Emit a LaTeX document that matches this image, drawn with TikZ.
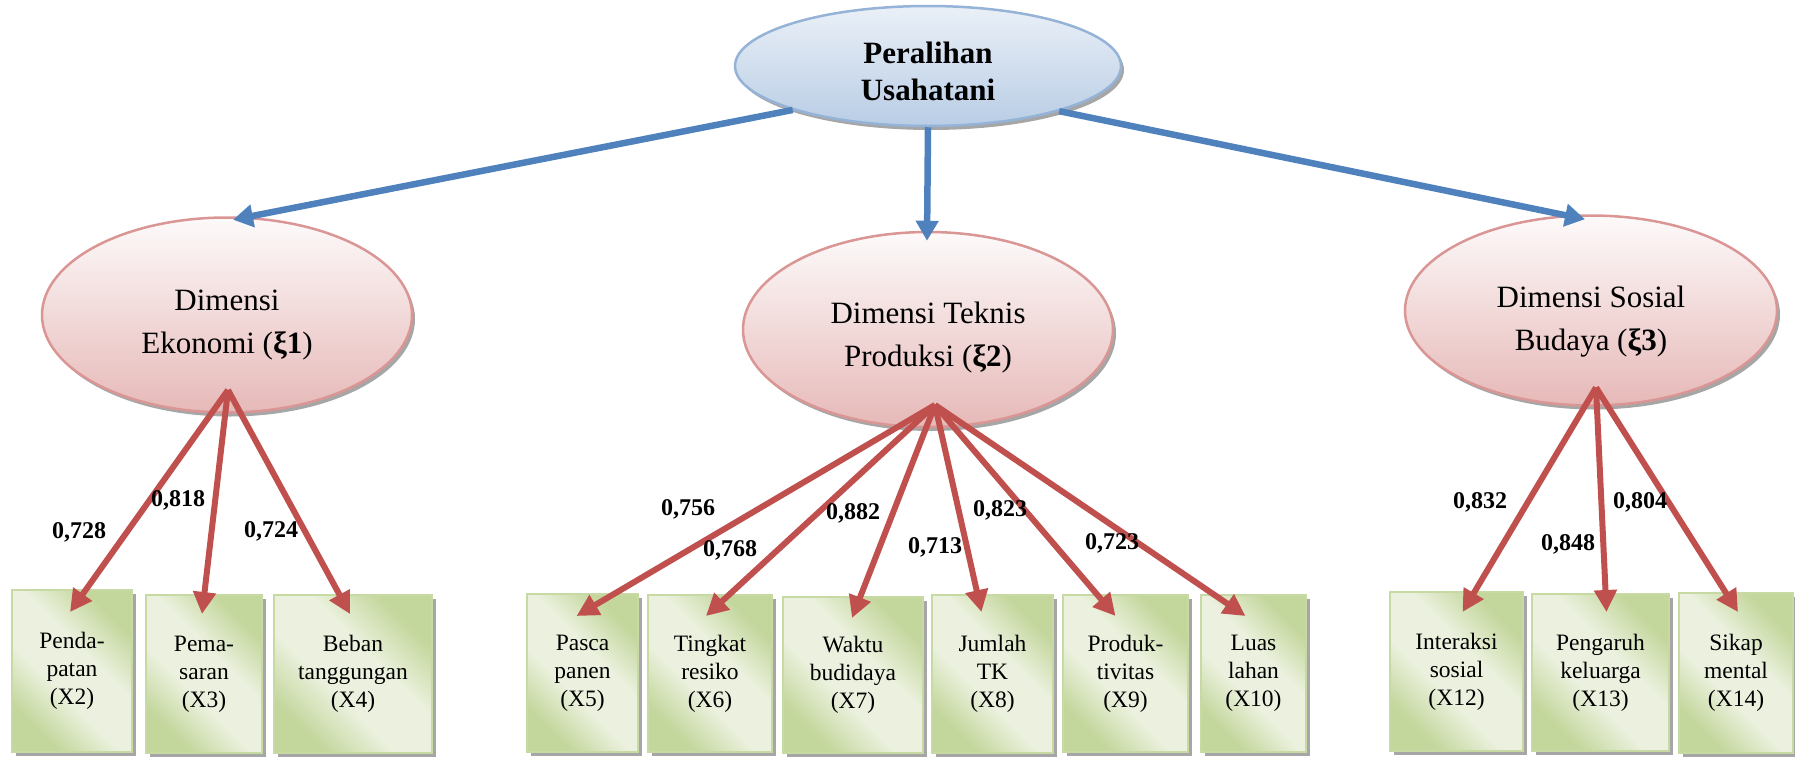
\documentclass[tikz,border=0pt]{standalone}
\usepackage{fontspec}
\setmainfont{Liberation Serif}
\usetikzlibrary{arrows.meta,shapes.geometric,shadows,calc}
\definecolor{bluL}{HTML}{4F81BD}
\definecolor{redL}{HTML}{C0504D}
\definecolor{pinkT}{HTML}{FDFAFA}
\definecolor{pinkB}{HTML}{E6B9B8}
\definecolor{pinkD}{HTML}{D99694}
\definecolor{blueT}{HTML}{DCE6F2}
\definecolor{blueB}{HTML}{B9CDE5}
\definecolor{blueD}{HTML}{95B3D7}
\definecolor{grnL}{HTML}{EBF1DE}
\definecolor{grnD}{HTML}{C3D69B}
\definecolor{grnE}{HTML}{C8DAA4}
\definecolor{shd}{HTML}{A6A6A6}
\pgfdeclarehorizontalshading{boxsh}{100bp}{color(0bp)=(grnD); color(26bp)=(grnD); color(42bp)=(grnL); color(58bp)=(grnL); color(74bp)=(grnD); color(100bp)=(grnD)}
\begin{document}
\begin{tikzpicture}[x=1pt,y=-1pt,
  ellip/.style={ellipse, draw=pinkD, line width=2.5pt, top color=pinkT, bottom color=pinkB,
    drop shadow={shadow xshift=3pt,shadow yshift=-4pt,fill=shd,opacity=1}, inner sep=0pt},
  rootell/.style={ellipse, draw=blueD, line width=2.5pt, top color=blueT!60!white, bottom color=blueB,
    drop shadow={shadow xshift=3pt,shadow yshift=-4pt,fill=shd,opacity=1}, inner sep=0pt},
  etext/.style={align=center, font=\fontsize{31}{43}\selectfont, inner sep=0pt},
  ttext/.style={align=center, font=\bfseries\fontsize{31}{37}\selectfont, inner sep=0pt},
  boxn/.style={rectangle, draw=grnE, line width=2pt, shading=boxsh, shading angle=45,
    drop shadow={shadow xshift=4pt,shadow yshift=-4pt,fill=shd,opacity=1},
    align=center, font=\fontsize{23.5}{28}\selectfont, inner sep=0pt},
  lbl/.style={font=\bfseries\fontsize{24}{28}\selectfont, inner sep=0pt, anchor=base},
  barr/.style={draw=bluL, line width=6.5pt, -{Triangle[length=20pt,width=22pt]}},
  rarr/.style={draw=redL, line width=6pt, -{Triangle[length=22pt,width=22pt]}}
]
\useasboundingbox (0,0) rectangle (1795,758);

% latent ellipses
\node[rootell, minimum width=386pt, minimum height=120pt] (root) at (928,66) {};
\node[ttext] (rootT) at (928,71) {Peralihan\\Usahatani};
\node[ellip, minimum width=370pt, minimum height=195pt] (eko) at (227,315) {};
\node[etext] (ekoT) at (227,325) {Dimensi\\Ekonomi (\textbf{ξ1})};
\node[ellip, minimum width=370pt, minimum height=195pt] (tek) at (928,329.5) {};
\node[etext] (tekT) at (928,338) {Dimensi Teknis\\Produksi (\textbf{ξ2})};
\node[ellip, minimum width=372pt, minimum height=190pt] (sos) at (1591,310.5) {};
\node[etext] (sosT) at (1591,322) {Dimensi Sosial\\Budaya (\textbf{ξ3})};

% indicator boxes
\node[boxn, minimum width=120pt, minimum height=162pt] (x2) at (72,671) {Penda-\\patan\\(X2)};
\node[boxn, minimum width=116pt, minimum height=158pt] (x3) at (204,674) {Pema-\\saran\\(X3)};
\node[boxn, minimum width=158pt, minimum height=158pt] (x4) at (353,674) {Beban\\tanggungan\\(X4)};
\node[boxn, minimum width=111pt, minimum height=158pt] (x5) at (582.5,673) {Pasca\\panen\\(X5)};
\node[boxn, minimum width=124pt, minimum height=157pt] (x6) at (710,673.5) {Tingkat\\resiko\\(X6)};
\node[boxn, minimum width=140pt, minimum height=156pt] (x7) at (853,675) {Waktu\\budidaya\\(X7)};
\node[boxn, minimum width=121pt, minimum height=158pt] (x8) at (992.5,674) {Jumlah\\TK\\(X8)};
\node[boxn, minimum width=125pt, minimum height=157pt] (x9) at (1125.5,673.5) {Produk-\\tivitas\\(X9)};
\node[boxn, minimum width=105pt, minimum height=157pt] (x10) at (1253.5,673.5) {Luas\\lahan\\(X10)};
\node[boxn, minimum width=133pt, minimum height=159pt] (x12) at (1456.5,671.5) {Interaksi\\sosial\\(X12)};
\node[boxn, minimum width=137pt, minimum height=157pt] (x13) at (1600.5,672.5) {Pengaruh\\keluarga\\(X13)};
\node[boxn, minimum width=114pt, minimum height=160pt] (x14) at (1736,673) {Sikap\\mental\\(X14)};

% blue arrows
\draw[barr] (root.198) -- ($(eko.north)+(6,3.5)$);
\draw[barr] (root.south) -- ($(tek.north)+(-1,10)$);
\draw[barr] (root.-19) -- ($(sos.north)+(-6,5)$);

% red arrows
\coordinate (ekoO) at ($(eko.center)+(1,75)$);
\coordinate (tekO) at ($(tek.center)+(7,75.5)$);
\coordinate (sosO) at ($(sos.center)+(5,77)$);
\draw[rarr] (ekoO) -- ($(x2.north)+(-2,23)$);
\draw[rarr] (ekoO) -- ($(x3.north)+(-2,20)$);
\draw[rarr] (ekoO) -- ($(x4.north)+(-3,20)$);
\draw[rarr] (tekO) -- ($(x5.north)+(-6,23)$);
\draw[rarr] (tekO) -- ($(x6.north)+(-4,22)$);
\draw[rarr] (tekO) -- ($(x7.north)+(-1,22)$);
\draw[rarr] (tekO) -- ($(x8.north)+(-11,18)$);
\draw[rarr] (tekO) -- ($(x9.north)+(-10,22)$);
\draw[rarr] (tekO) -- ($(x10.north)+(-8,22)$);
\draw[rarr] (sosO) -- ($(x12.north)+(6,21)$);
\draw[rarr] (sosO) -- ($(x13.north)+(6,19)$);
\draw[rarr] (sosO) -- ($(x14.north)+(2,20)$);

% loadings
\node[lbl] (l2) at (79,538) {0,728};
\node[lbl] (l3) at (178,506) {0,818};
\node[lbl] (l4) at (271,537) {0,724};
\node[lbl] (l5) at (688,515) {0,756};
\node[lbl] (l6) at (730,556) {0,768};
\node[lbl] (l7) at (853,519) {0,882};
\node[lbl] (l8) at (935,553) {0,713};
\node[lbl] (l9) at (1000,516) {0,823};
\node[lbl] (l10) at (1112,549) {0,723};
\node[lbl] (l12) at (1480,508) {0,832};
\node[lbl] (l13) at (1568,550) {0,848};
\node[lbl] (l14) at (1640,508) {0,804};
\end{tikzpicture}
\end{document}
